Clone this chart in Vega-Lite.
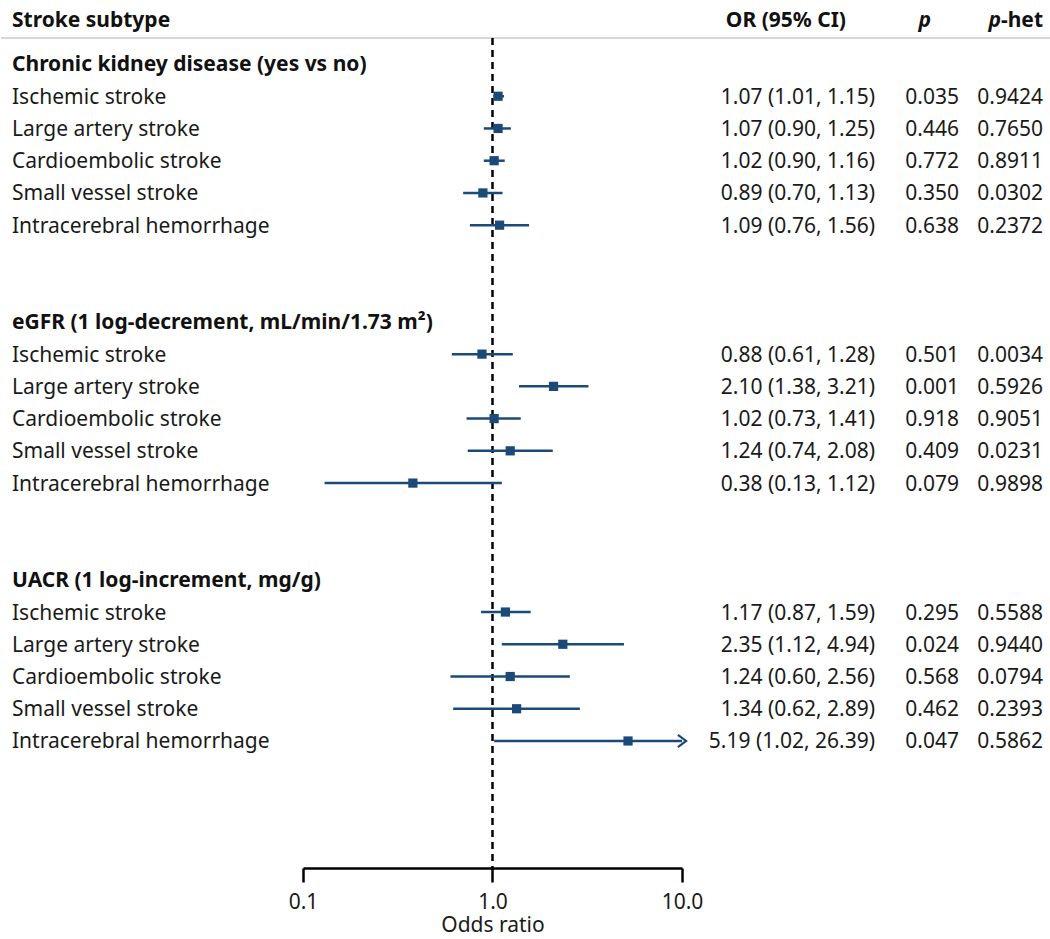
{
  "$schema": "https://vega.github.io/schema/vega-lite/v6.json",
  "padding": 0,
  "spacing": 0,
  "bounds": "flush",
  "config": {
    "view": {"stroke": null},
    "font": "Noto Sans",
    "text": {"font": "Noto Sans", "fontSize": 21, "color": "#1a1a1a", "baseline": "middle", "dy": 1.5}
  },
  "datasets": {
    "rows": [
      {"row": 1, "type": "group", "label": "Chronic kidney disease (yes vs no)"},
      {"row": 2, "type": "item", "label": "Ischemic stroke", "or": 1.07, "lo": 1.01, "hi": 1.15, "ci": "1.07 (1.01, 1.15)", "p": "0.035", "phet": "0.9424"},
      {"row": 3, "type": "item", "label": "Large artery stroke", "or": 1.07, "lo": 0.90, "hi": 1.25, "ci": "1.07 (0.90, 1.25)", "p": "0.446", "phet": "0.7650"},
      {"row": 4, "type": "item", "label": "Cardioembolic stroke", "or": 1.02, "lo": 0.90, "hi": 1.16, "ci": "1.02 (0.90, 1.16)", "p": "0.772", "phet": "0.8911"},
      {"row": 5, "type": "item", "label": "Small vessel stroke", "or": 0.89, "lo": 0.70, "hi": 1.13, "ci": "0.89 (0.70, 1.13)", "p": "0.350", "phet": "0.0302"},
      {"row": 6, "type": "item", "label": "Intracerebral hemorrhage", "or": 1.09, "lo": 0.76, "hi": 1.56, "ci": "1.09 (0.76, 1.56)", "p": "0.638", "phet": "0.2372"},
      {"row": 9, "type": "group", "label": "eGFR (1 log-decrement, mL/min/1.73 m²)"},
      {"row": 10, "type": "item", "label": "Ischemic stroke", "or": 0.88, "lo": 0.61, "hi": 1.28, "ci": "0.88 (0.61, 1.28)", "p": "0.501", "phet": "0.0034"},
      {"row": 11, "type": "item", "label": "Large artery stroke", "or": 2.10, "lo": 1.38, "hi": 3.21, "ci": "2.10 (1.38, 3.21)", "p": "0.001", "phet": "0.5926"},
      {"row": 12, "type": "item", "label": "Cardioembolic stroke", "or": 1.02, "lo": 0.73, "hi": 1.41, "ci": "1.02 (0.73, 1.41)", "p": "0.918", "phet": "0.9051"},
      {"row": 13, "type": "item", "label": "Small vessel stroke", "or": 1.24, "lo": 0.74, "hi": 2.08, "ci": "1.24 (0.74, 2.08)", "p": "0.409", "phet": "0.0231"},
      {"row": 14, "type": "item", "label": "Intracerebral hemorrhage", "or": 0.38, "lo": 0.13, "hi": 1.12, "ci": "0.38 (0.13, 1.12)", "p": "0.079", "phet": "0.9898"},
      {"row": 17, "type": "group", "label": "UACR (1 log-increment, mg/g)"},
      {"row": 18, "type": "item", "label": "Ischemic stroke", "or": 1.17, "lo": 0.87, "hi": 1.59, "ci": "1.17 (0.87, 1.59)", "p": "0.295", "phet": "0.5588"},
      {"row": 19, "type": "item", "label": "Large artery stroke", "or": 2.35, "lo": 1.12, "hi": 4.94, "ci": "2.35 (1.12, 4.94)", "p": "0.024", "phet": "0.9440"},
      {"row": 20, "type": "item", "label": "Cardioembolic stroke", "or": 1.24, "lo": 0.60, "hi": 2.56, "ci": "1.24 (0.60, 2.56)", "p": "0.568", "phet": "0.0794"},
      {"row": 21, "type": "item", "label": "Small vessel stroke", "or": 1.34, "lo": 0.62, "hi": 2.89, "ci": "1.34 (0.62, 2.89)", "p": "0.462", "phet": "0.2393"},
      {"row": 22, "type": "item", "label": "Intracerebral hemorrhage", "or": 5.19, "lo": 1.02, "hi": 26.39, "ci": "5.19 (1.02, 26.39)", "p": "0.047", "phet": "0.5862"}
    ],
    "one": [{}]
  },
  "hconcat": [
    {
      "width": 302,
      "height": 868,
      "layer": [
        {
          "data": {"name": "one"},
          "mark": {"type": "rule", "color": "#b0b0b0", "strokeWidth": 1.2},
          "encoding": {"y": {"datum": 0.194, "type": "quantitative", "scale": {"domain": [-0.985, 25.94], "reverse": true, "nice": false, "zero": false}, "axis": null}}
        },
        {
          "data": {"name": "one"},
          "mark": {"type": "text", "align": "left", "dx": 11, "fontWeight": "bold", "color": "#111"},
          "encoding": {
            "x": {"value": 0},
            "y": {"datum": -0.365, "type": "quantitative"},
            "text": {"value": "Stroke subtype"}
          }
        },
        {
          "data": {"name": "rows"},
          "transform": [{"filter": "datum.type === 'group'"}],
          "mark": {"type": "text", "align": "left", "dx": 11, "fontWeight": "bold", "color": "#111"},
          "encoding": {
            "x": {"value": 0},
            "y": {"field": "row", "type": "quantitative"},
            "text": {"field": "label"}
          }
        },
        {
          "data": {"name": "rows"},
          "transform": [{"filter": "datum.type === 'item'"}],
          "mark": {"type": "text", "align": "left", "dx": 11},
          "encoding": {
            "x": {"value": 0},
            "y": {"field": "row", "type": "quantitative"},
            "text": {"field": "label"}
          }
        }
      ]
    },
    {
      "width": 379,
      "height": 868,
      "layer": [
        {
          "data": {"name": "one"},
          "mark": {"type": "rule", "color": "#b0b0b0", "strokeWidth": 1.2},
          "encoding": {"y": {"datum": 0.194, "type": "quantitative", "scale": {"domain": [-0.985, 25.94], "reverse": true, "nice": false, "zero": false}, "axis": null}}
        },
        {
          "data": {"name": "one"},
          "mark": {"type": "rule", "color": "#000", "strokeWidth": 2.5, "strokeDash": [7, 5]},
          "encoding": {
            "x": {"datum": 1, "type": "quantitative", "title": "Odds ratio"},
            "y": {"datum": 0.194, "type": "quantitative"},
            "y2": {"datum": 25.94}
          }
        },
        {
          "data": {"name": "rows"},
          "transform": [{"filter": "datum.type === 'item'"}],
          "mark": {"type": "rule", "color": "#1b4a78", "strokeWidth": 2.5},
          "encoding": {
            "x": {
              "field": "lo", "type": "quantitative", "title": "Odds ratio",
              "scale": {"type": "log", "domain": [0.1, 10], "clamp": true, "nice": false},
              "axis": {
                "values": [0.1, 1, 10], "format": ".1f", "grid": false, "labelFlush": false,
                "domainColor": "#000", "domainWidth": 2.5, "tickColor": "#000", "tickWidth": 2.5, "tickSize": 14,
                "labelFont": "Noto Sans", "labelFontSize": 21, "labelColor": "#1a1a1a", "labelPadding": 9,
                "titleFont": "Noto Sans", "titleFontSize": 21, "titleFontWeight": "normal", "titleColor": "#1a1a1a",
                "titleBaseline": "bottom", "titleY": 67
              }
            },
            "x2": {"field": "hi"},
            "y": {"field": "row", "type": "quantitative"}
          }
        },
        {
          "data": {"name": "rows"},
          "transform": [{"filter": "datum.type === 'item'"}],
          "mark": {"type": "point", "shape": "square", "filled": true, "size": 85, "color": "#1b4a78", "opacity": 1},
          "encoding": {
            "x": {"field": "or", "type": "quantitative", "title": "Odds ratio"},
            "y": {"field": "row", "type": "quantitative"}
          }
        },
        {
          "data": {"name": "rows"},
          "transform": [{"filter": "datum.type === 'item' && datum.hi > 10"}],
          "mark": {"type": "point", "shape": "M -0.67 -1 L 0.67 0 L -0.67 1", "filled": false, "size": 150, "color": "#1b4a78", "strokeWidth": 2.2, "opacity": 1},
          "encoding": {
            "x": {"field": "hi", "type": "quantitative", "title": "Odds ratio"},
            "y": {"field": "row", "type": "quantitative"}
          }
        }
      ]
    },
    {
      "width": 193,
      "height": 868,
      "layer": [
        {
          "data": {"name": "one"},
          "mark": {"type": "rule", "color": "#b0b0b0", "strokeWidth": 1.2},
          "encoding": {"y": {"datum": 0.194, "type": "quantitative", "scale": {"domain": [-0.985, 25.94], "reverse": true, "nice": false, "zero": false}, "axis": null}}
        },
        {
          "data": {"name": "one"},
          "mark": {"type": "text", "align": "right", "dx": -29, "fontWeight": "bold", "color": "#111"},
          "encoding": {
            "x": {"value": "width"},
            "y": {"datum": -0.365, "type": "quantitative"},
            "text": {"value": "OR (95% CI)"}
          }
        },
        {
          "data": {"name": "rows"},
          "transform": [{"filter": "datum.type === 'item'"}],
          "mark": {"type": "text", "align": "right"},
          "encoding": {
            "x": {"value": "width"},
            "y": {"field": "row", "type": "quantitative"},
            "text": {"field": "ci"}
          }
        }
      ]
    },
    {
      "width": 84,
      "height": 868,
      "layer": [
        {
          "data": {"name": "one"},
          "mark": {"type": "rule", "color": "#b0b0b0", "strokeWidth": 1.2},
          "encoding": {"y": {"datum": 0.194, "type": "quantitative", "scale": {"domain": [-0.985, 25.94], "reverse": true, "nice": false, "zero": false}, "axis": null}}
        },
        {
          "data": {"name": "one"},
          "mark": {"type": "text", "align": "right", "dx": -28, "fontWeight": "bold", "fontStyle": "italic", "color": "#111"},
          "encoding": {
            "x": {"value": "width"},
            "y": {"datum": -0.365, "type": "quantitative"},
            "text": {"value": "p"}
          }
        },
        {
          "data": {"name": "rows"},
          "transform": [{"filter": "datum.type === 'item'"}],
          "mark": {"type": "text", "align": "right"},
          "encoding": {
            "x": {"value": "width"},
            "y": {"field": "row", "type": "quantitative"},
            "text": {"field": "p"}
          }
        }
      ]
    },
    {
      "width": 92,
      "height": 868,
      "layer": [
        {
          "data": {"name": "one"},
          "mark": {"type": "rule", "color": "#b0b0b0", "strokeWidth": 1.2},
          "encoding": {"y": {"datum": 0.194, "type": "quantitative", "scale": {"domain": [-0.985, 25.94], "reverse": true, "nice": false, "zero": false}, "axis": null}}
        },
        {
          "data": {"name": "one"},
          "mark": {"type": "text", "align": "right", "dx": -8, "fontWeight": "bold", "color": "#111"},
          "encoding": {
            "x": {"value": "width"},
            "y": {"datum": -0.365, "type": "quantitative"},
            "text": {"value": "-het"}
          }
        },
        {
          "data": {"name": "one"},
          "mark": {"type": "text", "align": "right", "dx": -50, "fontWeight": "bold", "fontStyle": "italic", "color": "#111"},
          "encoding": {
            "x": {"value": "width"},
            "y": {"datum": -0.365, "type": "quantitative"},
            "text": {"value": "p"}
          }
        },
        {
          "data": {"name": "rows"},
          "transform": [{"filter": "datum.type === 'item'"}],
          "mark": {"type": "text", "align": "right", "dx": -8},
          "encoding": {
            "x": {"value": "width"},
            "y": {"field": "row", "type": "quantitative"},
            "text": {"field": "phet"}
          }
        }
      ]
    }
  ]
}
